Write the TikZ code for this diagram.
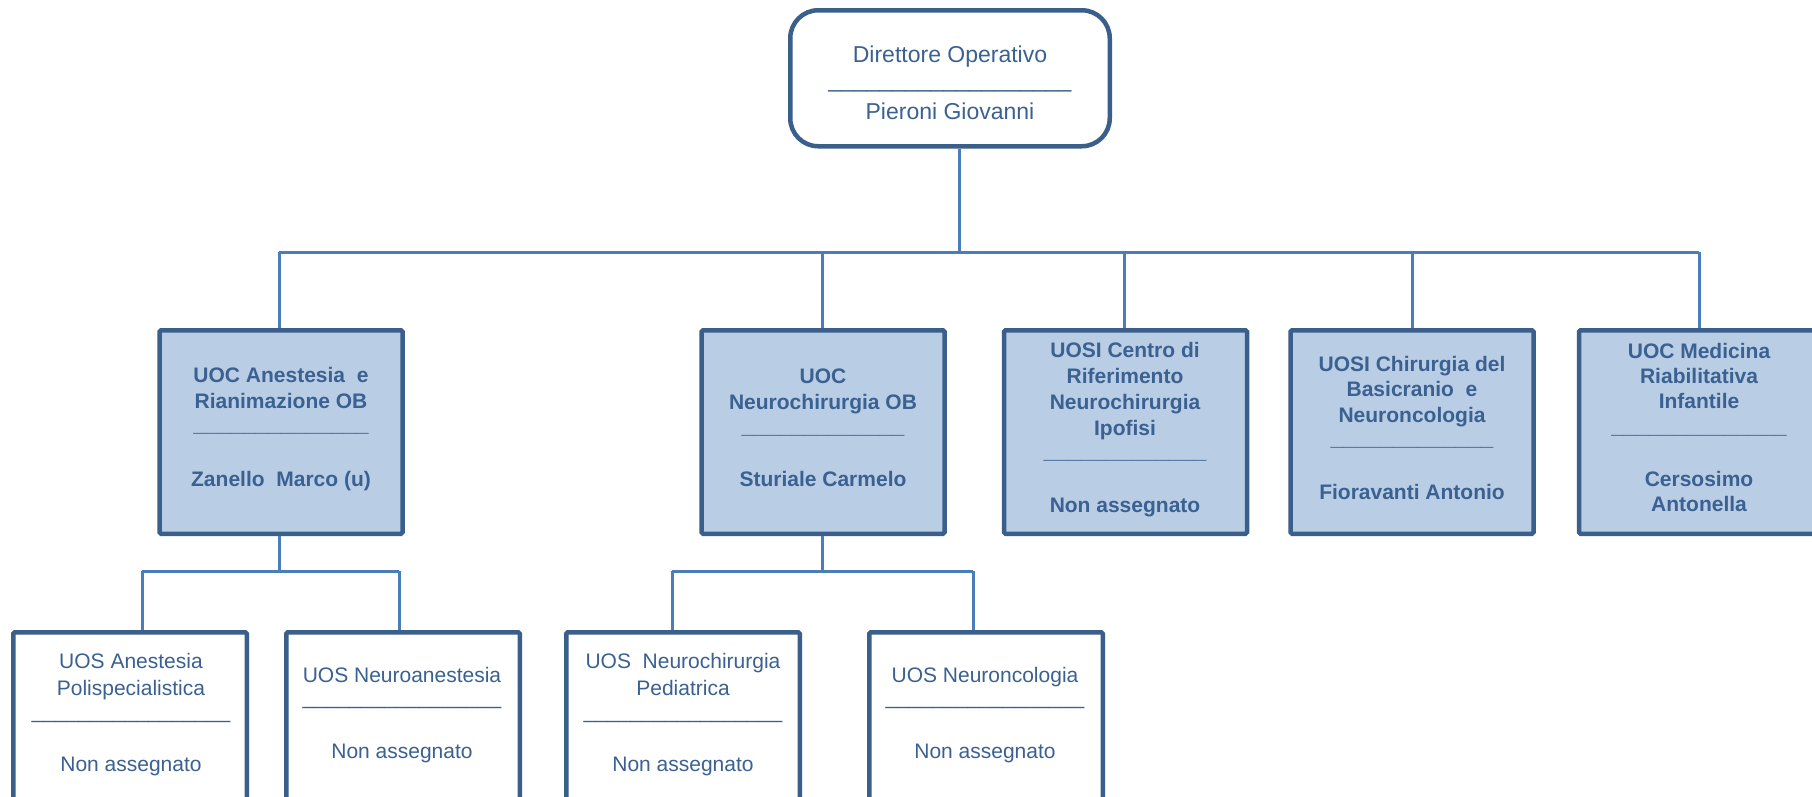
\documentclass[tikz,border=0pt]{standalone}
\usepackage{fontspec}
\setmainfont{Liberation Sans}
\definecolor{boxline}{HTML}{3A5F8B}
\definecolor{connline}{HTML}{4A7EBB}
\definecolor{boxfill}{HTML}{B9CDE5}
\definecolor{txtblue}{HTML}{3A6191}
\tikzset{
  conn/.style={draw=connline, line width=3pt},
  unitbox/.style={draw=boxline, line width=4.5pt, rounded corners=1.5pt, inner sep=0pt},
  lvtwobox/.style={unitbox, fill=boxfill, minimum width=243pt, minimum height=203.5pt},
  lvthreebox/.style={unitbox, fill=white, minimum width=233.5pt, minimum height=220pt},
  topbox/.style={draw=boxline, line width=4.5pt, rounded corners=28pt, fill=white, inner sep=0pt,
    minimum width=319.5pt, minimum height=136pt},
  tx/.style={text=txtblue, anchor=base, inner sep=0pt},
  txb/.style={tx, font=\fontsize{21}{25}\selectfont\bfseries},
  txr/.style={tx, font=\fontsize{21}{25}\selectfont},
  txtop/.style={tx, font=\fontsize{23}{27}\selectfont},
  sepb/.style={tx, font=\fontsize{22.5}{25}\selectfont\bfseries},
}
\begin{document}
\begin{tikzpicture}[x=1pt,y=-1pt]
\useasboundingbox (0,0) rectangle (1812,796);
\fill[white] (0,0) rectangle (1812,796);
\clip (0,0) rectangle (1812,796);

% ---------- boxes ----------
\node[topbox] (top) at (950,78.25) {};
\node[lvtwobox] (A) at (281,432) {};
\node[lvtwobox] (B) at (823,432) {};
\node[lvtwobox] (C) at (1125.5,432) {};
\node[lvtwobox] (D) at (1412,432) {};
\node[lvtwobox] (E) at (1700.5,432) {};
\node[lvthreebox] (F) at (130,742.25) {};
\node[lvthreebox] (G) at (403,742.25) {};
\node[lvthreebox] (H) at (683,742.25) {};
\node[lvthreebox] (I) at (986,742.25) {};

% ---------- connectors ----------
\coordinate (t0) at (959,252);
\coordinate (bA) at (279,252);
\coordinate (bB) at (822,252);
\coordinate (bC) at (1124,252);
\coordinate (bD) at (1412,252);
\coordinate (bE) at (1699,252);
\draw[conn] (top.south -| t0) -- (t0);
\draw[conn] (bA) -- (bE);
\draw[conn] (bA) -- (bA |- A.north);
\draw[conn] (bB) -- (bB |- B.north);
\draw[conn] (bC) -- (bC |- C.north);
\draw[conn] (bD) -- (bD |- D.north);
\draw[conn] (bE) -- (bE |- E.north);

\coordinate (a0) at (279,571);
\coordinate (fF) at (142,571);
\coordinate (fG) at (399,571);
\draw[conn] (a0 |- A.south) -- (a0);
\draw[conn] (fF) -- (fG);
\draw[conn] (fF) -- (fF |- F.north);
\draw[conn] (fG) -- (fG |- G.north);

\coordinate (b0) at (822,571);
\coordinate (fH) at (672,571);
\coordinate (fI) at (973,571);
\draw[conn] (b0 |- B.south) -- (b0);
\draw[conn] (fH) -- (fI);
\draw[conn] (fH) -- (fH |- H.north);
\draw[conn] (fI) -- (fI |- I.north);

% ---------- texts ----------
\node[txtop] (top1) at (950,62) {Direttore Operativo};
\node[txtop] (topl) at (950,87.5) {\_\_\_\_\_\_\_\_\_\_\_\_\_\_\_\_\_\_\_};
\node[txtop] (top2) at (950,119) {Pieroni Giovanni};

\node[txb] (A1) at (281,382) {UOC Anestesia~ e};
\node[txb] (A2) at (281,408) {Rianimazione OB};
\node[sepb] (Al) at (281,431.5) {\_\_\_\_\_\_\_\_\_\_\_\_\_\_};
\node[txb] (An) at (281,486) {Zanello~ Marco (u)};

\node[txb] (B1) at (823,383) {UOC};
\node[txb] (B2) at (823,409) {Neurochirurgia OB};
\node[sepb] (Bl) at (823,433.5) {\_\_\_\_\_\_\_\_\_\_\_\_\_};
\node[txb] (Bn) at (823,486) {Sturiale Carmelo};

\node[txb] (C1) at (1125,357) {UOSI Centro di};
\node[txb] (C2) at (1125,383) {Riferimento};
\node[txb] (C3) at (1125,409) {Neurochirurgia};
\node[txb] (C4) at (1125,435) {Ipofisi};
\node[sepb] (Cl) at (1125,458.5) {\_\_\_\_\_\_\_\_\_\_\_\_\_};
\node[txb] (Cn) at (1125,512) {Non assegnato};

\node[txb] (D1) at (1412,371) {UOSI Chirurgia del};
\node[txb] (D2) at (1412,396) {Basicranio~ e};
\node[txb] (D3) at (1412,422) {Neuroncologia};
\node[sepb] (Dl) at (1412,445.5) {\_\_\_\_\_\_\_\_\_\_\_\_\_};
\node[txb] (Dn) at (1412,499) {Fioravanti Antonio};

\node[txb] (E1) at (1699,358) {UOC Medicina};
\node[txb] (E2) at (1699,383) {Riabilitativa};
\node[txb] (E3) at (1699,408) {Infantile};
\node[sepb] (El) at (1699,433.5) {\_\_\_\_\_\_\_\_\_\_\_\_\_\_};
\node[txb] (En1) at (1699,486) {Cersosimo};
\node[txb] (En2) at (1699,511) {Antonella};

\node[txr] (F1) at (131,668) {UOS Anestesia};
\node[txr] (F2) at (131,695) {Polispecialistica};
\node[txr] (Fl) at (131,718.5) {\_\_\_\_\_\_\_\_\_\_\_\_\_\_\_\_\_};
\node[txr] (Fn) at (131,771) {Non assegnato};

\node[txr] (G1) at (402,682) {UOS Neuroanestesia};
\node[txr] (Gl) at (402,704.5) {\_\_\_\_\_\_\_\_\_\_\_\_\_\_\_\_\_};
\node[txr] (Gn) at (402,758) {Non assegnato};

\node[txr] (H1) at (683,668) {UOS~ Neurochirurgia};
\node[txr] (H2) at (683,695) {Pediatrica};
\node[txr] (Hl) at (683,718.5) {\_\_\_\_\_\_\_\_\_\_\_\_\_\_\_\_\_};
\node[txr] (Hn) at (683,771) {Non assegnato};

\node[txr] (I1) at (985,682) {UOS Neuroncologia};
\node[txr] (Il) at (985,704.5) {\_\_\_\_\_\_\_\_\_\_\_\_\_\_\_\_\_};
\node[txr] (In) at (985,758) {Non assegnato};
\end{tikzpicture}
\end{document}
